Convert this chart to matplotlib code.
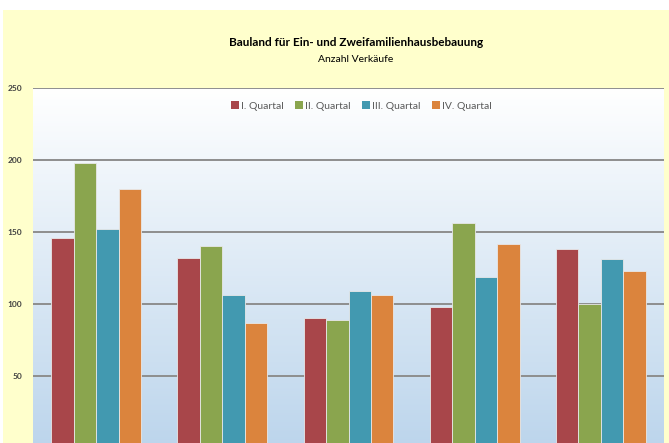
import numpy as np
import matplotlib
matplotlib.use('Agg')
import matplotlib.pyplot as plt
from matplotlib.patches import Rectangle, Patch

# values (Anzahl Verkäufe per group and quarter)
groups = [0, 1, 2, 3, 4]
q1 = [146, 132, 90, 98, 138]
q2 = [198, 140, 89, 156, 100]
q3 = [152, 106, 109, 119, 131]
q4 = [180, 87, 106, 142, 123]
series_names = ['I. Quartal', 'II. Quartal', 'III. Quartal', 'IV. Quartal']
colors = ['#A8464A', '#8AA54E', '#4299B0', '#DB843D']
yticks = [50, 100, 150, 200, 250]

W, H = 669, 443
fig = plt.figure(figsize=(W / 100, H / 100), dpi=100, facecolor='white')
plt.rcParams['font.family'] = ['Lato', 'DejaVu Sans']

# yellow chart area
fig.patches.append(Rectangle((3 / W, 0), 1, (H - 10) / H, transform=fig.transFigure,
                             facecolor='#FFFFCC', edgecolor='none', zorder=-1))

# plot area, bottom (value 0) lies just below the visible picture
ax = fig.add_axes([33 / W, -5 / H, (664 - 33) / W, (448 - 88) / H])
ax.set_zorder(1)

# vertical gradient background
grad = np.linspace(0, 1, 256).reshape(256, 1, 1)
top = np.array([1.0, 1.0, 1.0]).reshape(1, 1, 3)
bot = (np.array([188, 213, 236]) / 255).reshape(1, 1, 3)
img = top + (bot - top) * grad
ax.imshow(img, extent=[-0.5, 4.5, 0, 250], origin='upper', aspect='auto', zorder=0)
ax.set_xlim(-0.5, 4.5)
ax.set_ylim(0, 250)

ax.set_yticks(yticks)
ax.yaxis.grid(True, color='#8E8E8E', linewidth=1.4, zorder=1)
ax.set_axisbelow(True)
for s in ax.spines.values():
    s.set_visible(False)
ax.tick_params(axis='y', length=0, pad=8, labelsize=6, labelcolor='#404040')
ax.tick_params(axis='x', length=0, labelbottom=False)
for lbl in ax.get_yticklabels():
    lbl.set_fontweight('bold')

width = 0.178
x = np.array(groups, dtype=float)
for i, (vals, c) in enumerate(zip([q1, q2, q3, q4], colors)):
    ax.bar(x + (i - 1.5) * width, vals, width, color=c, edgecolor='#E8E8E8',
           linewidth=0.6, zorder=3)

handles = [Patch(facecolor=c, edgecolor='none') for c in colors]
leg = ax.legend(handles, series_names, loc='center', bbox_to_anchor=(361 / W, 1 - 106 / H),
                bbox_transform=fig.transFigure, ncol=4, frameon=False, fontsize=7.5,
                handlelength=0.8, handleheight=0.8, handletextpad=0.15,
                columnspacing=1.1, labelcolor='#595959')

fig.text(356 / W, 1 - 43 / H, 'Bauland für Ein- und Zweifamilienhausbebauung',
         ha='center', va='center', fontsize=8.5, fontweight='bold', color='black')
fig.text(356 / W, 1 - 59 / H, 'Anzahl Verkäufe', ha='center', va='center',
         fontsize=7.5, color='black')

fig.savefig('out.png', dpi=100, facecolor=fig.get_facecolor())
